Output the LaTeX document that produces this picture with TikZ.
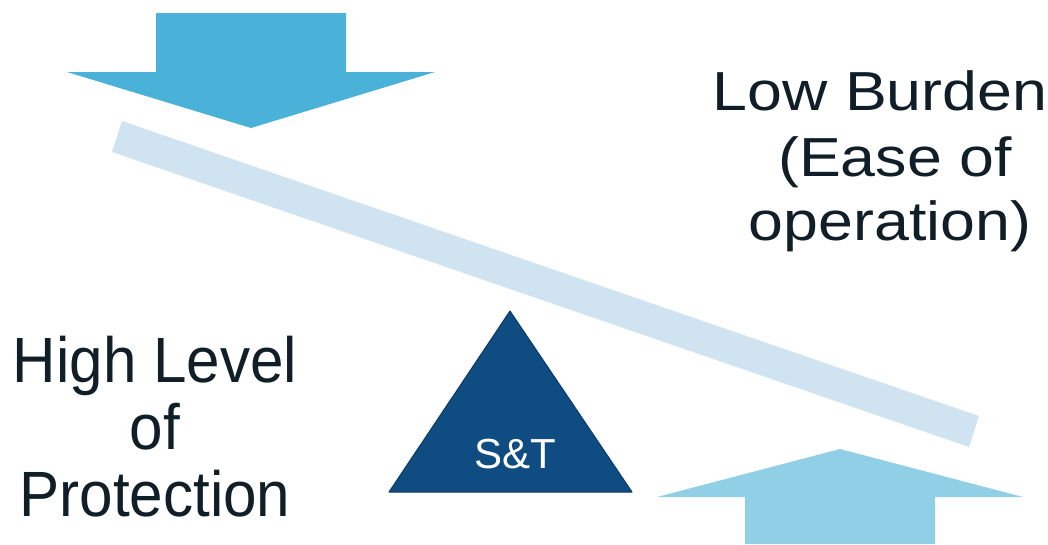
\documentclass[tikz,border=0pt]{standalone}
\usepackage{fontspec}
\setmainfont{Liberation Sans}
\definecolor{arrowdark}{HTML}{4AB1D8}
\definecolor{arrowlight}{HTML}{91CFE6}
\definecolor{beamcol}{HTML}{CFE3F1}
\definecolor{fulcrum}{HTML}{0F4C82}
\definecolor{fulcrumedge}{HTML}{0A3A66}
\definecolor{txt}{HTML}{101E28}
\tikzset{
  bigleft/.style={text=txt, inner sep=0pt, anchor=base, font=\fontsize{64}{64}\selectfont, xscale=0.94, transform shape},
  bigright/.style={text=txt, inner sep=0pt, anchor=base, font=\fontsize{55}{55}\selectfont, xscale=1.14, transform shape},
}
\begin{document}
\begin{tikzpicture}[x=1pt,y=-1pt]
\useasboundingbox (0,0) rectangle (1048,544);
% beam
\fill[beamcol] (122,121) -- (979,416) -- (969,447) -- (112,152) -- cycle;
% top arrow (down)
\fill[arrowdark] (156,13) -- (346,13) -- (346,72) -- (435,72) -- (251,128) -- (67,72) -- (156,72) -- cycle;
% bottom arrow (up)
\fill[arrowlight] (745,544) -- (745,497) -- (657,497) -- (840,449) -- (1023,497) -- (935,497) -- (935,544) -- cycle;
% fulcrum
\coordinate (apex) at (510,311);
\coordinate (bl) at (389,492);
\coordinate (br) at (632,492);
\filldraw[fill=fulcrum, draw=fulcrumedge, line width=1pt, line join=round] (apex) -- (br) -- (bl) -- cycle;
\node[text=white, inner sep=0pt, anchor=base, font=\fontsize{42}{42}\selectfont] (st) at (515,468) {S\&T};
% right text
\node[bigright] (r1) at (880,110) {Low Burden};
\node[bigright] (r2) at (895,176) {(Ease of};
\node[bigright] (r3) at (890,240) {operation)};
% left text
\node[bigleft] (l1) at (155,382) {High Level};
\node[bigleft] (l2) at (155,449) {of};
\node[bigleft] (l3) at (155,516) {Protection};
\end{tikzpicture}
\end{document}
